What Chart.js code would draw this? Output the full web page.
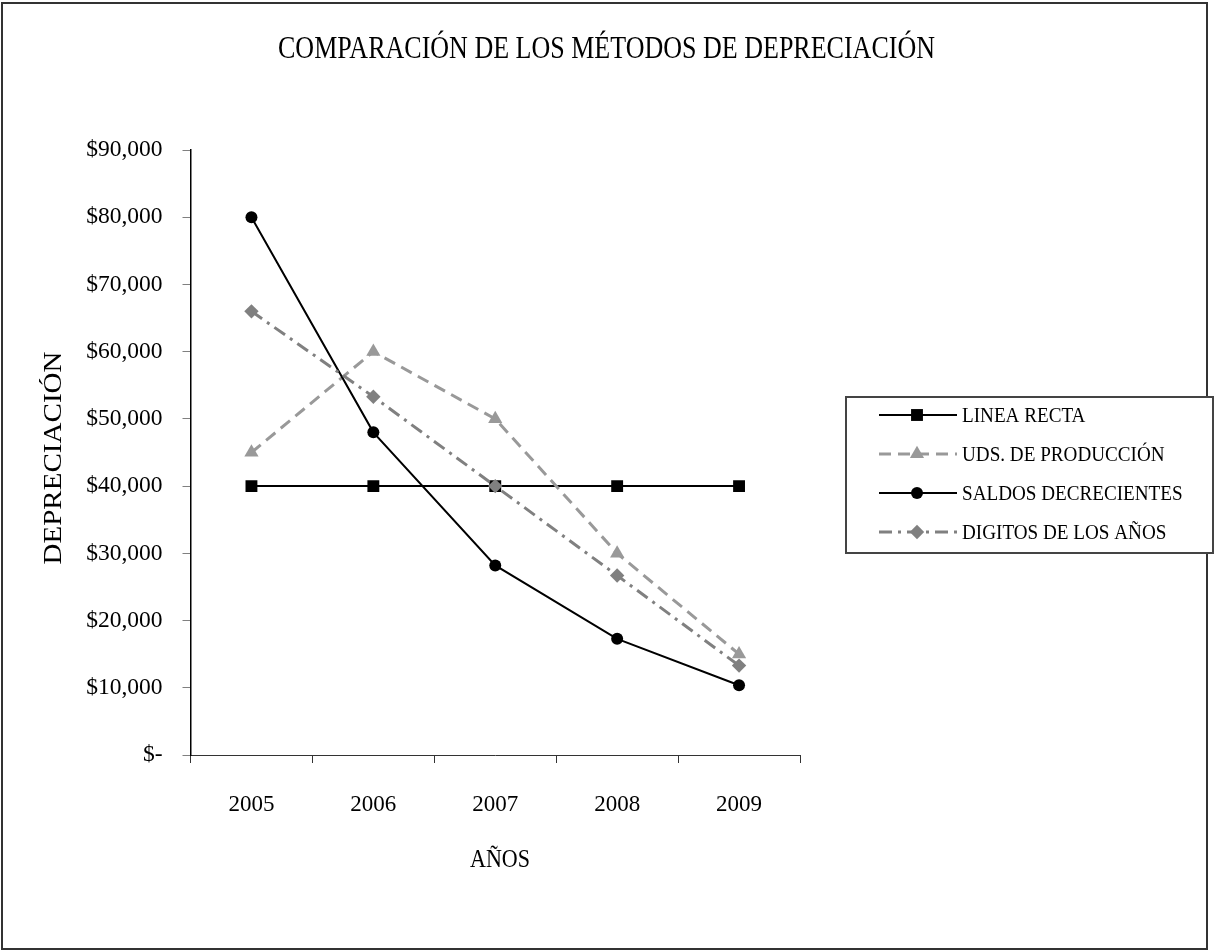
<!DOCTYPE html>
<html><head><meta charset="utf-8">
<script src="https://cdn.jsdelivr.net/npm/chart.js@4.4.0/dist/chart.umd.min.js"></script>
<style>html,body{margin:0;padding:0;background:#fff}canvas{display:block}</style>
</head><body>
<canvas id="c" width="1217" height="951"></canvas>
<script>
const years = ['2005', '2006', '2007', '2008', '2009'];
const lineaRecta = [40000, 40000, 40000, 40000, 40000];
const udsProduccion = [45000, 60000, 50000, 30000, 15000];
const saldosDecrecientes = [80000, 48000, 28200, 17280, 10368];
const digitosAnios = [66000, 53300, 40000, 26700, 13300];
const seriesNames = ['LINEA RECTA', 'UDS. DE PRODUCCIÓN', 'SALDOS DECRECIENTES', 'DIGITOS DE LOS AÑOS'];
const yTickLabels = ['$-', '$10,000', '$20,000', '$30,000', '$40,000', '$50,000', '$60,000', '$70,000', '$80,000', '$90,000'];
const chartTitle = 'COMPARACIÓN DE LOS MÉTODOS DE DEPRECIACIÓN';
const xTitle = 'AÑOS';
const yTitle = 'DEPRECIACIÓN';

const FONT = '"Liberation Serif", "DejaVu Serif", serif';

function fitText(ctx, text, cx, baseY, size, targetW) {
  ctx.save();
  ctx.font = size + 'px ' + FONT;
  const w = ctx.measureText(text).width;
  const s = targetW / w;
  ctx.translate(cx, baseY);
  ctx.scale(s, 1);
  ctx.textAlign = 'center';
  ctx.textBaseline = 'alphabetic';
  ctx.fillStyle = '#000';
  ctx.fillText(text, 0, 0);
  ctx.restore();
}
function leftText(ctx, text, x, baseY, size, scaleX) {
  ctx.save();
  ctx.font = size + 'px ' + FONT;
  ctx.translate(x, baseY);
  ctx.scale(scaleX, 1);
  ctx.textAlign = 'left';
  ctx.textBaseline = 'alphabetic';
  ctx.fillStyle = '#000';
  ctx.fillText(text, 0, 0);
  ctx.restore();
}
function marker(ctx, style, r, x, y, color) {
  ctx.save();
  ctx.setLineDash([]);
  ctx.fillStyle = color;
  ctx.beginPath();
  if (style === 'rect') {
    const s = Math.SQRT1_2 * r;
    ctx.rect(x - s, y - s, 2 * s, 2 * s);
  } else if (style === 'circle') {
    ctx.arc(x, y, r, 0, Math.PI * 2);
  } else if (style === 'triangle') {
    ctx.moveTo(x, y - r);
    ctx.lineTo(x + r * 0.866, y + r * 0.5);
    ctx.lineTo(x - r * 0.866, y + r * 0.5);
    ctx.closePath();
  } else if (style === 'rectRot') {
    ctx.moveTo(x - r, y); ctx.lineTo(x, y - r); ctx.lineTo(x + r, y); ctx.lineTo(x, y + r);
    ctx.closePath();
  }
  ctx.fill();
  ctx.restore();
}

const decor = {
  id: 'decor',
  beforeDraw(chart) {
    const ctx = chart.ctx;
    ctx.save();
    ctx.fillStyle = '#fff';
    ctx.fillRect(0, 0, chart.width, chart.height);
    ctx.strokeStyle = '#333';
    ctx.lineWidth = 2;
    ctx.strokeRect(2, 3, 1205, 946);
    ctx.restore();
  },
  afterDraw(chart) {
    const ctx = chart.ctx;
    fitText(ctx, chartTitle, 606.5, 58, 31, 657);
    fitText(ctx, xTitle, 500, 867, 26, 60);
    ctx.save();
    ctx.translate(61, 458);
    ctx.rotate(-Math.PI / 2);
    fitText(ctx, yTitle, 0, 0, 26, 213);
    ctx.restore();
    ctx.save();
    ctx.fillStyle = '#fff';
    ctx.fillRect(846, 397, 367, 156);
    ctx.strokeStyle = '#444';
    ctx.lineWidth = 2;
    ctx.strokeRect(846, 397, 367, 156);
    ctx.restore();
    const rowsY = [415, 454, 493, 532];
    chart.data.datasets.forEach((ds, i) => {
      const y = rowsY[i];
      ctx.save();
      ctx.strokeStyle = ds.borderColor;
      ctx.lineWidth = ds.borderWidth;
      ctx.setLineDash(ds.borderDash || []);
      ctx.beginPath();
      ctx.moveTo(879, y);
      ctx.lineTo(957, y);
      ctx.stroke();
      ctx.restore();
      marker(ctx, ds.pointStyle, ds.pointRadius, 917, y, ds.pointBackgroundColor);
      leftText(ctx, seriesNames[i], 962, y + 7, 22, 0.87);
    });
  }
};

Chart.defaults.font.family = FONT;
Chart.defaults.color = '#000';

new Chart(document.getElementById('c'), {
  type: 'line',
  data: {
    labels: years,
    datasets: [
      { label: seriesNames[0], data: lineaRecta, borderColor: '#000', borderWidth: 2, borderDash: [],
        pointStyle: 'rect', pointRadius: 8.4, pointBackgroundColor: '#000', pointBorderColor: '#000', pointBorderWidth: 0, order: 4 },
      { label: seriesNames[1], data: udsProduccion, borderColor: '#999999', borderWidth: 3, borderDash: [12, 7],
        pointStyle: 'triangle', pointRadius: 8.2, pointBackgroundColor: '#999999', pointBorderColor: '#999999', pointBorderWidth: 0, order: 3 },
      { label: seriesNames[2], data: saldosDecrecientes, borderColor: '#000', borderWidth: 2, borderDash: [],
        pointStyle: 'circle', pointRadius: 6, pointBackgroundColor: '#000', pointBorderColor: '#000', pointBorderWidth: 0, order: 2 },
      { label: seriesNames[3], data: digitosAnios, borderColor: '#808080', borderWidth: 3, borderDash: [13, 6, 3, 6],
        pointStyle: 'rectRot', pointRadius: 7.2, pointBackgroundColor: '#808080', pointBorderColor: '#808080', pointBorderWidth: 0, order: 1 }
    ]
  },
  options: {
    responsive: false,
    animation: false,
    devicePixelRatio: 1,
    layout: { padding: { left: 0, top: 150, right: 417, bottom: 951 - 755 - 60 } },
    elements: { line: { tension: 0, fill: false } },
    plugins: { legend: { display: false }, title: { display: false }, tooltip: { enabled: false } },
    scales: {
      x: {
        type: 'category',
        offset: true,
        grid: { offset: true, drawOnChartArea: false, drawTicks: true, tickLength: 8, color: '#333', lineWidth: 1 },
        border: { display: true, color: '#333', width: 1 },
        ticks: { font: { size: 23 }, color: '#000', padding: 28, maxRotation: 0 },
        afterFit(s) { s.height = 60; }
      },
      y: {
        min: 0, max: 90000,
        ticks: { stepSize: 10000, font: { size: 23.5 }, color: '#000', padding: 20,
          callback: (v, i) => yTickLabels[i] },
        grid: { drawOnChartArea: false, drawTicks: true, tickLength: 8, color: '#808080', lineWidth: 1 },
        border: { display: true, color: '#000', width: 1.5 },
        afterFit(s) { s.width = 190.5; }
      }
    }
  },
  plugins: [decor]
});
</script>
</body></html>
